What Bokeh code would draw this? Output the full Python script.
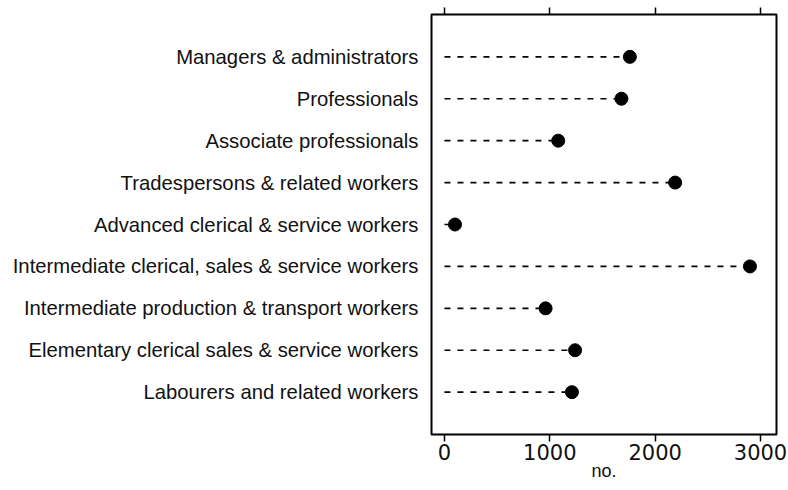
from bokeh.plotting import figure
from bokeh.models import Range1d, FactorRange, LinearAxis, FixedTicker, ColumnDataSource
from bokeh.embed import file_html
from bokeh.resources import INLINE

categories = [
    "Managers & administrators",
    "Professionals",
    "Associate professionals",
    "Tradespersons & related workers",
    "Advanced clerical & service workers",
    "Intermediate clerical, sales & service workers",
    "Intermediate production & transport workers",
    "Elementary clerical sales & service workers",
    "Labourers and related workers",
]
values = [1760, 1680, 1080, 2190, 100, 2900, 960, 1240, 1210]
x_ticks = [0, 1000, 2000, 3000]
x_title = "no."

src = ColumnDataSource(dict(cat=categories, val=values, zero=[0] * len(values)))

p = figure(
    width=788, height=490,
    output_backend="svg", toolbar_location=None,
    x_range=Range1d(-123, 3152),
    y_range=FactorRange(factors=list(reversed(categories)), range_padding=0.51,
                        range_padding_units="absolute"),
    min_border_left=431, min_border_right=12, min_border_top=14, min_border_bottom=56,
    x_axis_location="below",
)
p.background_fill_color = "white"
p.border_fill_color = "white"
p.outline_line_color = "black"
p.outline_line_width = 2
p.xgrid.visible = False
p.ygrid.visible = False

p.segment(x0="zero", y0="cat", x1="val", y1="cat", source=src,
          line_color="black", line_width=1.6, line_dash="6 7")
p.scatter(x="val", y="cat", source=src, size=13, fill_color="black", line_color="black")

xa = p.xaxis[0]
xa.ticker = FixedTicker(ticks=x_ticks)
xa.minor_tick_line_color = None
xa.major_tick_in = 0
xa.major_tick_out = 7
xa.major_tick_line_width = 1.5
xa.axis_line_color = None
xa.major_label_text_font = "DejaVu Sans"
xa.major_label_text_font_size = "21px"
xa.major_label_text_color = "#111111"
xa.major_label_standoff = 2
xa.axis_label = x_title
xa.axis_label_text_font = "Liberation Sans"
xa.axis_label_text_font_style = "normal"
xa.axis_label_text_font_size = "18px"
xa.axis_label_text_color = "#111111"
xa.axis_label_standoff = -2

top = LinearAxis(ticker=FixedTicker(ticks=x_ticks))
top.minor_tick_line_color = None
top.major_tick_in = 0
top.major_tick_out = 7
top.major_tick_line_width = 1.5
top.axis_line_color = None
top.major_label_overrides = {t: "" for t in x_ticks}
top.major_label_text_font_size = "1px"
top.major_label_standoff = 0
p.add_layout(top, "above")

ya = p.yaxis[0]
ya.major_tick_line_color = None
ya.minor_tick_line_color = None
ya.axis_line_color = None
ya.major_label_standoff = 7
ya.major_label_text_font = "Liberation Sans"
ya.major_label_text_font_size = "20.3px"
ya.major_label_text_color = "#111111"

open("out.html", "w").write(file_html(p, INLINE))
